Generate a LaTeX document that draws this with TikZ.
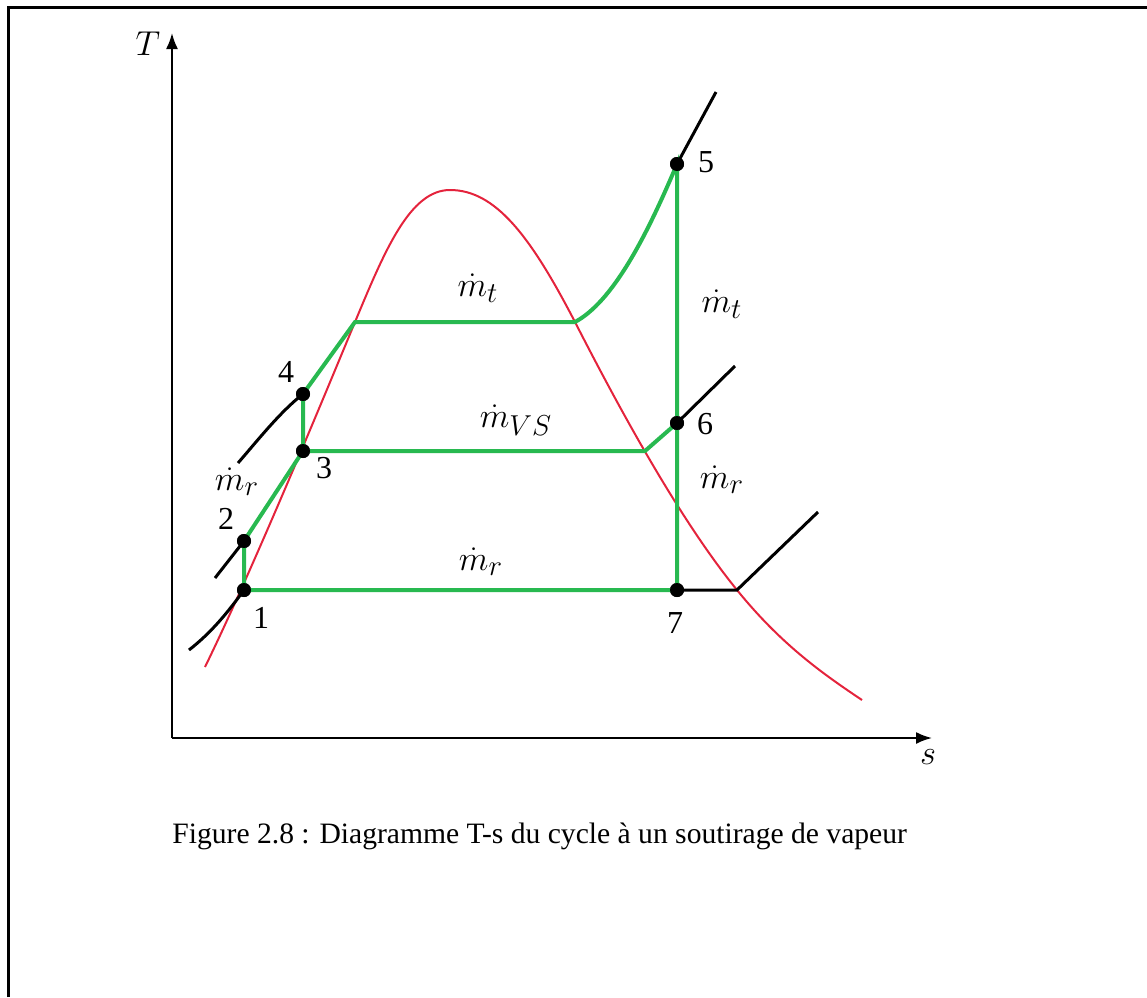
\documentclass[tikz,border=0pt]{standalone}
\usepackage{fontspec}
\setmainfont{Liberation Serif}
\usetikzlibrary{arrows.meta}
\definecolor{cgreen}{RGB}{40,185,80}
\definecolor{cred}{RGB}{228,35,60}
\begin{document}
\begin{tikzpicture}[x=0.5pt,y=-0.5pt,
  axis/.style={line width=1pt,-{Latex[length=8pt,width=6pt]}},
  dome/.style={cred,line width=1pt},
  proc/.style={cgreen,line width=2pt},
  isob/.style={black,line width=1.5pt},
  dot/.style={circle,fill=black,inner sep=0pt,minimum size=7pt},
  lbl/.style={font=\fontsize{16}{19}\selectfont,inner sep=1pt},
  mlbl/.style={font=\fontsize{19}{22}\selectfont,inner sep=1pt},
  frameline/.style={line width=1.5pt}]
\useasboundingbox (0,0) rectangle (1147,997);
% frame
\coordinate (fa) at (8,997);
\coordinate (fb) at (8,7);
\coordinate (fc) at (1147,7);
\draw[frameline] (fa) -- (fb) -- (fc);
% axes
\coordinate (O) at (172,738);
\coordinate (Ty) at (172,33);
\coordinate (Sx) at (932,738);
\draw[axis] (O) -- (Ty);
\draw[axis] (O) -- (Sx);
\node[mlbl] (Tl) at (148,44) {$T$};
\node[mlbl] (sl) at (928,757) {$s$};
% saturation dome
\draw[dome] (205,667) .. controls (245,585) and (300,455) .. (355,322)
  .. controls (385,250) and (410,190) .. (450,190)
  .. controls (495,190) and (530,235) .. (575,322)
  .. controls (620,410) and (680,520) .. (737,590)
  .. controls (780,643) and (820,672) .. (862,700);
% points
\node[dot] (p1) at (244,590) {};
\node[dot] (p2) at (244,541) {};
\node[dot] (p3) at (303,451) {};
\node[dot] (p4) at (303,394) {};
\node[dot] (p5) at (677,164) {};
\node[dot] (p6) at (677,423) {};
\node[dot] (p7) at (677,590) {};
\coordinate (a) at (355,322);
\coordinate (b) at (575,322);
\coordinate (c) at (645,451);
\coordinate (d) at (737,590);
% isobars (black)
\coordinate (e5) at (716,92);
\coordinate (e6) at (735,366);
\coordinate (e7) at (818,512);
\coordinate (e4) at (238,463);
\coordinate (e2) at (215,578);
\coordinate (e1) at (189,650);
\draw[isob] (p5.center) -- (e5);
\draw[isob] (p6.center) -- (e6);
\draw[isob] (p7.center) -- (d) -- (e7);
\draw[isob] (p4.center) .. controls (280,412) and (258,440) .. (e4);
\draw[isob] (p2.center) -- (e2);
\draw[isob] (p1.center) .. controls (228,612) and (212,632) .. (e1);
% process lines (green)
\draw[proc] (p1.center) -- (p2.center) -- (p3.center) -- (p4.center) -- (a) -- (b)
  .. controls (612,302) and (645,240) .. (p5.center) -- (p7.center) -- (p1.center);
\draw[proc] (p3.center) -- (c) -- (p6.center);
% redraw dots on top
\foreach \n in {p1,p2,p3,p4,p5,p6,p7} \fill (\n) circle (3.5pt);
% labels
\node[lbl] (l1) at (261,618) {1};
\node[lbl] (l2) at (226,519) {2};
\node[lbl] (l3) at (324,468) {3};
\node[lbl] (l4) at (286,372) {4};
\node[lbl] (l5) at (706,162) {5};
\node[lbl] (l6) at (705,424) {6};
\node[lbl] (l7) at (675,623) {7};
\node[mlbl] (mt1) at (478,288) {$\dot m_t$};
\node[mlbl] (mt2) at (722,304) {$\dot m_t$};
\node[mlbl] (mvs) at (516,420) {$\dot m_{VS}$};
\node[mlbl] (mr1) at (237,482) {$\dot m_r$};
\node[mlbl] (mr2) at (722,480) {$\dot m_r$};
\node[mlbl] (mr3) at (481,562) {$\dot m_r$};
% caption
\node[anchor=west,inner sep=0pt,font=\fontsize{14.8}{18}\selectfont] (cap) at (172,836) {Figure 2.8 : Diagramme T-s du cycle à un soutirage de vapeur};
\end{tikzpicture}
\end{document}
